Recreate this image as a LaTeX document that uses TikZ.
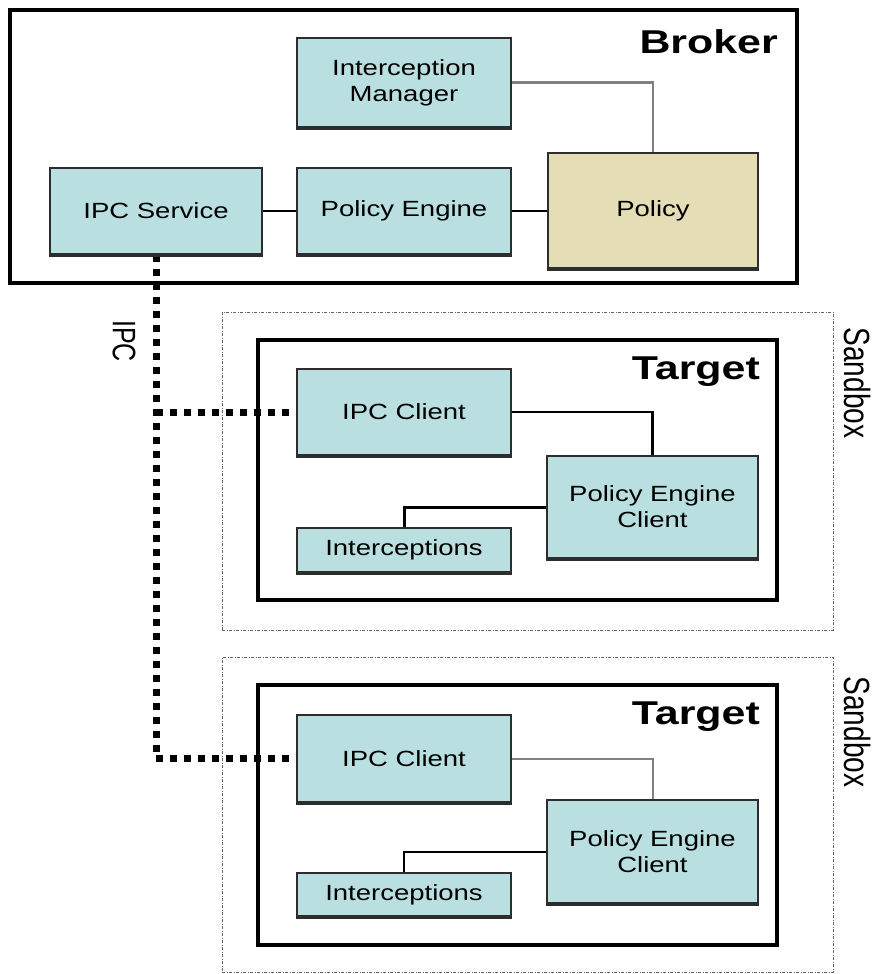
\documentclass[tikz,border=0pt]{standalone}
\usepackage{fontspec}
\usepackage{graphicx}
\setmainfont{Liberation Sans}
\definecolor{boxblue}{RGB}{185,223,225}
\definecolor{policytan}{RGB}{229,221,181}
\definecolor{edgedark}{RGB}{45,45,45}
\newcommand\sx[1]{\scalebox{1.25}[1]{#1}}
\newcommand\sxt[1]{\scalebox{1.3}[1]{#1}}
\begin{document}
\begin{tikzpicture}[x=1pt,y=-1pt,
  comp/.style={draw=edgedark, line width=1.8pt, fill=boxblue, inner sep=0pt,
    align=center, font=\fontsize{22}{26}\selectfont},
  frame/.style={draw=black, line width=3.2pt, inner sep=0pt},
  sandboxframe/.style={draw=black!60, line width=1pt,
    dash pattern=on 3pt off 1.5pt on 1pt off 1.5pt, inner sep=0pt},
  title/.style={font=\fontsize{33}{36}\selectfont\bfseries, anchor=east, inner sep=0pt},
  sidelabel/.style={font=\fontsize{28}{30}\selectfont, rotate=-90, inner sep=0pt},
  link/.style={draw=black, line width=2.5pt},
  greylink/.style={draw=black!50, line width=2.5pt},
  ipclink/.style={draw=black, line width=7pt, dash pattern=on 7pt off 7pt}
]
\useasboundingbox (0,0) rectangle (875,974);

% Broker
\node[frame, minimum width=787pt, minimum height=273pt] (broker) at (403.5,146.5) {};
\node[title] (brokerlabel) at (778,42) {\sxt{Broker}};
\node[comp, minimum width=214pt, minimum height=89pt] (im) at (404,82.5)
  {\sx{Interception}\\\sx{Manager}};
\node[comp, fill=policytan, minimum width=210pt, minimum height=115pt] (policy) at (653,210.5) {\sx{Policy}};
\node[comp, minimum width=212pt, minimum height=86pt] (ipcs) at (156,211) {\sx{IPC Service}};
\node[comp, minimum width=214pt, minimum height=86pt] (pe) at (404,211) {\sx{Policy Engine}};

% Sandbox 1
\node[sandboxframe, minimum width=611pt, minimum height=318pt] (sb1) at (527.5,471) {};
\node[sidelabel] (sb1label) at (857,383) {\scalebox{1}[1.3]{Sandbox}};
\node[frame, minimum width=519pt, minimum height=260pt] (t1) at (517.5,470) {};
\node[title] (t1label) at (760,372) {\sxt{Target}};

% Sandbox 2
\node[sandboxframe, minimum width=611pt, minimum height=315pt] (sb2) at (527.5,814.5) {};
\node[sidelabel] (sb2label) at (857,732) {\scalebox{1}[1.3]{Sandbox}};
\node[frame, minimum width=519pt, minimum height=260pt] (t2) at (517.5,815) {};
\node[title] (t2label) at (760,717) {\sxt{Target}};

% IPC label
\node[sidelabel, font=\fontsize{25}{27}\selectfont] (ipclabel) at (124,341) {\scalebox{1}[1.3]{IPC}};

% IPC dotted line
\draw[ipclink] (ipcs.south) |- (404,758.5);
\draw[ipclink] (156,412) -- (404,412);

% Target 1 components
\node[comp, minimum width=214pt, minimum height=86pt] (ipcc1) at (404,412) {\sx{IPC Client}};
\node[comp, minimum width=211pt, minimum height=102pt] (pec1) at (652.5,507)
  {\sx{Policy Engine}\\\sx{Client}};
\node[comp, minimum width=214pt, minimum height=44pt] (int1) at (404,550) {\sx{Interceptions}};

% Target 2 components
\node[comp, minimum width=214pt, minimum height=87pt] (ipcc2) at (404,758.5) {\sx{IPC Client}};
\node[comp, minimum width=211pt, minimum height=103pt] (pec2) at (652.5,851.5)
  {\sx{Policy Engine}\\\sx{Client}};
\node[comp, minimum width=214pt, minimum height=43pt] (int2) at (404,894.5) {\sx{Interceptions}};

% thicker bottom edges (shadow look)
\foreach \n in {im,policy,ipcs,pe,ipcc1,pec1,int1,ipcc2,pec2,int2}
  \draw[edgedark, line width=3.5pt] (\n.south west) -- (\n.south east);

% Connectors in broker
\draw[link] (ipcs.east) -- (pe.west);
\draw[link] (pe.east) -- (pe.east -| policy.west);
\draw[greylink] (im.east) -| (policy.north);

% Connectors in target 1
\draw[link] (ipcc1.east) -| (pec1.north);
\draw[link, line width=3pt] (int1.north) |- (pec1.west);

% Connectors in target 2
\draw[greylink, line width=2pt] (ipcc2.east) -| (pec2.north);
\draw[link, line width=2pt] (int2.north) |- (pec2.west);
\end{tikzpicture}
\end{document}
